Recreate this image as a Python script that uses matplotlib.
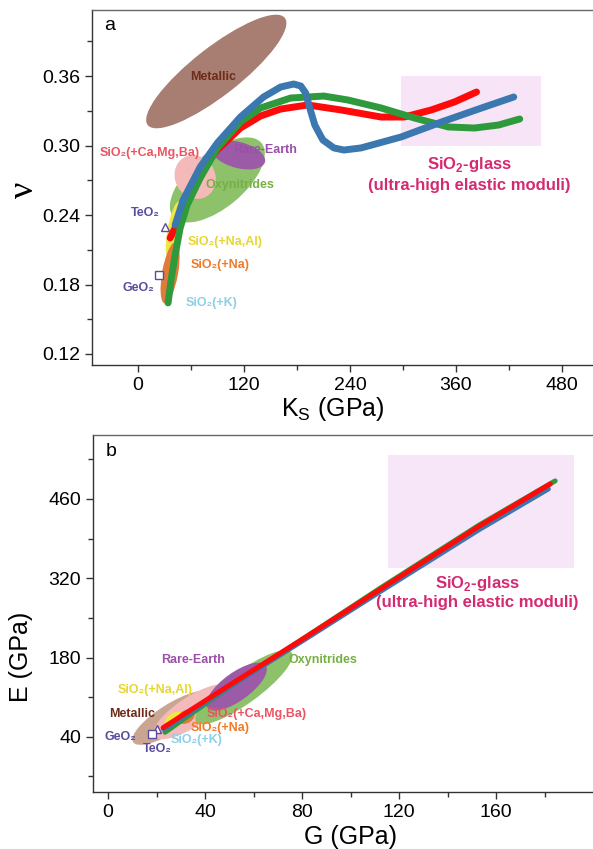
import matplotlib
matplotlib.use("Agg")
import matplotlib.pyplot as plt
from matplotlib.patches import Ellipse, Rectangle
from matplotlib.transforms import Affine2D, ScaledTranslation
from matplotlib.ticker import MultipleLocator

plt.rcParams['font.family'] = ['Liberation Sans', 'DejaVu Sans']

# ---------------- data: panel a (Ks vs Poisson ratio) ----------------
red_a_K = [36.4, 42.1, 51.2, 70.5, 89.9, 116.0, 138.8, 161.5, 192.2, 229.8, 275.3, 301.4, 332.1, 358.3, 383.3]
red_a_nu = [0.2202, 0.2288, 0.2504, 0.2772, 0.2961, 0.3151, 0.3255, 0.3315, 0.3350, 0.3307, 0.3246, 0.3246, 0.3307, 0.3376, 0.3462]

blue_a_K = [42.1, 51.2, 70.5, 89.9, 116.0, 142.2, 161.5, 176.3, 184.3, 189.9, 194.5, 200.2, 209.3, 221.8, 233.2, 252.5, 298.0, 343.5, 389.0, 425.4]
blue_a_nu = [0.2314, 0.2530, 0.2815, 0.3022, 0.3246, 0.3419, 0.3505, 0.3531, 0.3514, 0.3453, 0.3324, 0.3177, 0.3048, 0.2979, 0.2961, 0.2979, 0.3074, 0.3203, 0.3324, 0.3419]

green_a_K = [34.1, 37.5, 42.1, 47.8, 55.7, 70.5, 89.9, 116.0, 138.8, 172.9, 210.4, 237.7, 275.3, 312.8, 351.5, 381.0, 408.3, 432.2]
green_a_nu = [0.1641, 0.1839, 0.2055, 0.2288, 0.2487, 0.2720, 0.2979, 0.3203, 0.3324, 0.3410, 0.3427, 0.3393, 0.3324, 0.3238, 0.3160, 0.3151, 0.3177, 0.3229]

# regions (center K, center nu, width px, height px, angle deg)
regions_a = {
    'Oxynitrides': (89.9, 0.2703, 115, 55, 40),
    'SiO2(+Ca,Mg,Ba)': (64.8, 0.2728, 40, 45, 30),
    'Rare-Earth': (113.7, 0.2918, 55, 26, -15),
    'Metallic': (88.7, 0.3639, 174, 48, 38),
    'SiO2(+Na,Al)': (40.9, 0.227, 58, 13, 80),
    'SiO2(+Na)': (36.4, 0.190, 62, 16, 80),
}
teo2_a = (30.7, 0.230)
geo2_a = (23.9, 0.188)
glass_a_K = (298, 456)
glass_a_nu = (0.2996, 0.36)

# ---------------- data: panel b (G vs E) ----------------
red_b_G = [22.7, 50, 80, 112, 153, 182.3]
red_b_E = [56, 131, 212, 300, 412, 486.6]
green_b_G = [23.5, 50, 80, 112, 153, 184.3]
green_b_E = [48, 128, 212, 302, 414, 491.9]
blue_b_G = [23.0, 50, 80, 112, 153, 181.5]
blue_b_E = [53, 128, 209, 296, 406, 477.7]

regions_b = {
    'Metallic': (26.4, 73.7, 92, 28, 32),
    'SiO2(+Ca,Mg,Ba)': (34.6, 84.3, 90, 30, 33),
    'Oxynitrides': (56.0, 127.5, 118, 32, 36),
    'Rare-Earth': (53.0, 128.6, 72, 28, 36),
    'SiO2(+Na,Al)': (27.6, 70.1, 22, 14, 30),
    'SiO2(+Na)': (32.2, 75.4, 18, 13, 30),
}
teo2_b = (20.2, 54.2)
geo2_b = (18.1, 45.3)
glass_b_G = (115.5, 192.2)
glass_b_E = (337.7, 538)

# ---------------- styles ----------------
fill = {
    'Metallic': '#a87d72',
    'SiO2(+Ca,Mg,Ba)': '#f4baba',
    'Oxynitrides': '#8dc26a',
    'Rare-Earth': '#9c5ba6',
    'SiO2(+Na,Al)': '#f2e63f',
    'SiO2(+Na)': '#e07b39',
}
fill_b = dict(fill)
fill_b['Metallic'] = '#c9a592'
txtc = {
    'Metallic': '#6e2c1a',
    'SiO2(+Ca,Mg,Ba)': '#eb5563',
    'Rare-Earth': '#9b4fa8',
    'Oxynitrides': '#76b043',
    'oxide': '#5a4b9c',
    'SiO2(+Na,Al)': '#e6d630',
    'SiO2(+Na)': '#f07a2a',
    'SiO2(+K)': '#8ccfe8',
    'glass': '#d42a72',
}
RED, BLUE, GREEN = '#ff0a0a', '#3b78b0', '#2f9a3c'

fig = plt.figure(figsize=(5.93, 8.49), dpi=100)
W, H = 593, 849
axa = fig.add_axes([92 / W, 1 - 365 / H, (592 - 92) / W, (365 - 10) / H])
axb = fig.add_axes([93 / W, 1 - 792 / H, (592 - 93) / W, (792 - 435) / H])


def blob(ax, x, y, w, h, ang, color, z=1):
    t = Affine2D().scale(fig.dpi / 100.0) + ScaledTranslation(x, y, ax.transData)
    ax.add_patch(Ellipse((0, 0), w, h, angle=ang, transform=t, facecolor=color,
                         edgecolor='none', zorder=z))


def style(ax):
    ax.spines['right'].set_visible(False)
    ax.spines['top'].set_color('#666666')
    for s in ('left', 'bottom'):
        ax.spines[s].set_color('#333333')
    for s in ax.spines.values():
        s.set_linewidth(1.0)
    ax.tick_params(which='major', direction='out', length=5, width=1, labelsize=14, color='#333333')
    ax.tick_params(which='minor', direction='out', length=3.5, width=1, color='#333333')
    ax.tick_params(top=False, right=False, which='both')


# ---------- panel a ----------
style(axa)
axa.set_xlim(-52, 514)
axa.set_ylim(0.1105, 0.417)
axa.xaxis.set_major_locator(MultipleLocator(120))
axa.xaxis.set_minor_locator(MultipleLocator(60))
axa.yaxis.set_minor_locator(MultipleLocator(0.03))
axa.set_yticks([0.12, 0.18, 0.24, 0.30, 0.36])
axa.set_yticklabels(['0.12', '0.18', '0.24', '0.30', '0.36'])

axa.add_patch(Rectangle((glass_a_K[0], glass_a_nu[0]), glass_a_K[1] - glass_a_K[0],
                        glass_a_nu[1] - glass_a_nu[0], facecolor='#f7e4f7', edgecolor='none', zorder=0))
for name, (cx, cy, w, h, ang) in regions_a.items():
    blob(axa, cx, cy, w, h, ang, fill[name], z=1)

axa.plot(red_a_K, red_a_nu, color=RED, lw=5, solid_capstyle='round', solid_joinstyle='round', zorder=3)
axa.plot(green_a_K, green_a_nu, color=GREEN, lw=5, solid_capstyle='round', solid_joinstyle='round', zorder=4)
axa.plot(blue_a_K, blue_a_nu, color=BLUE, lw=5, solid_capstyle='round', solid_joinstyle='round', zorder=5)

axa.plot(*teo2_a, marker='^', ms=6, mfc='white', mec=txtc['oxide'], mew=1, zorder=6)
axa.plot(*geo2_a, marker='s', ms=5.5, mfc='white', mec=txtc['oxide'], mew=1, zorder=6)

tk = dict(fontsize=9, fontweight='bold', ha='center', va='center', zorder=7)
axa.text(85.3, 0.3591, 'Metallic', color=txtc['Metallic'], **tk)
axa.text(13.6, 0.2936, 'SiO₂(+Ca,Mg,Ba)', color=txtc['SiO2(+Ca,Mg,Ba)'], **tk)
axa.text(144.4, 0.2961, 'Rare-Earth', color=txtc['Rare-Earth'], **tk)
axa.text(116.0, 0.2659, 'Oxynitrides', color=txtc['Oxynitrides'], **tk)
axa.text(8.0, 0.2418, 'TeO₂', color=txtc['oxide'], **tk)
axa.text(99.0, 0.2167, 'SiO₂(+Na,Al)', color=txtc['SiO2(+Na,Al)'], **tk)
axa.text(93.3, 0.1969, 'SiO₂(+Na)', color=txtc['SiO2(+Na)'], **tk)
axa.text(0.0, 0.1770, 'GeO₂', color=txtc['oxide'], **tk)
axa.text(83.0, 0.1641, 'SiO₂(+K)', color=txtc['SiO2(+K)'], **tk)
axa.text(375.3, 0.2832, 'SiO$_\\mathregular{2}$-glass', color=txtc['glass'], fontsize=12,
         fontweight='bold', ha='center', va='center', zorder=7)
axa.text(375.3, 0.2659, '(ultra-high elastic moduli)', color=txtc['glass'], fontsize=12,
         fontweight='bold', ha='center', va='center', zorder=7)
axa.text(0.025, 0.955, 'a', transform=axa.transAxes, fontsize=14, ha='left', va='center')

fig.text(24 / W, 1 - 190 / H, 'ν', family=['Liberation Serif', 'DejaVu Serif'], fontsize=26,
         rotation=90, ha='center', va='center')
fig.text(333 / W, 1 - 409 / H, 'K$_\\mathregular{S}$ (GPa)', fontsize=18, ha='center', va='center')

# ---------- panel b ----------
style(axb)
axb.set_xlim(-6.2, 199.5)
axb.set_ylim(-57.5, 573)
axb.xaxis.set_major_locator(MultipleLocator(40))
axb.xaxis.set_minor_locator(MultipleLocator(20))
axb.set_yticks([40, 180, 320, 460])
axb.set_yticks([-30, 110, 250, 390, 530], minor=True)

axb.add_patch(Rectangle((glass_b_G[0], glass_b_E[0]), glass_b_G[1] - glass_b_G[0],
                        glass_b_E[1] - glass_b_E[0], facecolor='#f7e6f7', edgecolor='none', zorder=0))
for name, (cx, cy, w, h, ang) in regions_b.items():
    blob(axb, cx, cy, w, h, ang, fill_b[name], z=1)

axb.plot(green_b_G, green_b_E, color=GREEN, lw=3.6, solid_capstyle='round', zorder=3)
axb.plot(blue_b_G, blue_b_E, color=BLUE, lw=3.6, solid_capstyle='round', zorder=4)
axb.plot(red_b_G, red_b_E, color=RED, lw=3.6, solid_capstyle='round', zorder=5)

axb.plot(*teo2_b, marker='^', ms=6, mfc='white', mec=txtc['oxide'], mew=1, zorder=6)
axb.plot(*geo2_b, marker='s', ms=5.5, mfc='white', mec=txtc['oxide'], mew=1, zorder=6)

axb.text(35.0, 176.4, 'Rare-Earth', color=txtc['Rare-Earth'], **tk)
axb.text(88.7, 176.4, 'Oxynitrides', color=txtc['Oxynitrides'], **tk)
axb.text(19.4, 123.3, 'SiO₂(+Na,Al)', color=txtc['SiO2(+Na,Al)'], **tk)
axb.text(9.9, 80.8, 'Metallic', color=txtc['Metallic'], **tk)
axb.text(61.4, 80.8, 'SiO₂(+Ca,Mg,Ba)', color=txtc['SiO2(+Ca,Mg,Ba)'], **tk)
axb.text(46.2, 56.0, 'SiO₂(+Na)', color=txtc['SiO2(+Na)'], **tk)
axb.text(4.9, 40.0, 'GeO₂', color=txtc['oxide'], **tk)
axb.text(36.7, 34.7, 'SiO₂(+K)', color=txtc['SiO2(+K)'], **tk)
axb.text(20.2, 18.7, 'TeO₂', color=txtc['oxide'], **tk)
axb.text(152.2, 311, 'SiO$_\\mathregular{2}$-glass', color=txtc['glass'], fontsize=12,
         fontweight='bold', ha='center', va='center', zorder=7)
axb.text(152.2, 277.5, '(ultra-high elastic moduli)', color=txtc['glass'], fontsize=12,
         fontweight='bold', ha='center', va='center', zorder=7)
axb.text(0.025, 0.955, 'b', transform=axb.transAxes, fontsize=14, ha='left', va='center')

fig.text(21 / W, 1 - 657 / H, 'E (GPa)', fontsize=18, rotation=90, ha='center', va='center')
fig.text(350 / W, 1 - 837 / H, 'G (GPa)', fontsize=18, ha='center', va='center')

fig.savefig('out.png', dpi=100)
